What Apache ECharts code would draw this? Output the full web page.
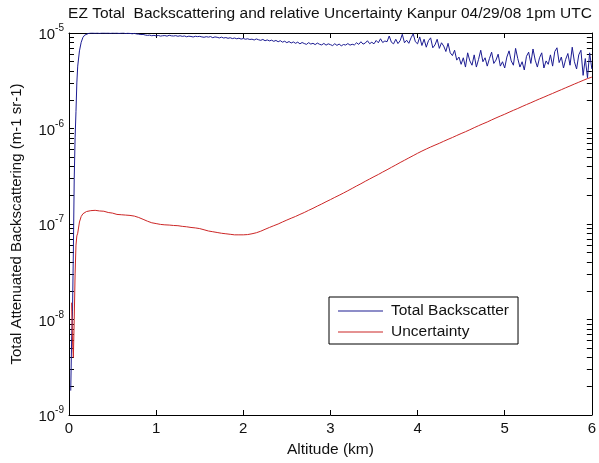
<!DOCTYPE html>
<html>
<head>
<meta charset="utf-8">
<script src="https://cdn.jsdelivr.net/npm/echarts@6/dist/echarts.min.js"></script>
<style>html,body{margin:0;padding:0;background:#fff;}#c{width:599px;height:463px;}</style>
</head>
<body>
<div id="c"></div>
<script>
// ---- Data ----
const chartTitle = 'EZ Total  Backscattering and relative Uncertainty Kanpur 04/29/08 1pm UTC';
const seriesNames = ['Total Backscatter', 'Uncertainty'];
const xTickLabels = [0, 1, 2, 3, 4, 5, 6];
const yTickDecades = [-9, -8, -7, -6, -5];      // labels 10^-9 ... 10^-5
const yMinorMultipliers = [2, 3, 4, 5, 6, 7, 8, 9];

const altitudeBackscatter = [
  0.02,0.03,0.04,0.05,0.06,0.07,0.08,0.09,0.10,0.12,0.14,0.16,0.18,
  0.2,0.225,0.25,0.275, 0.3,0.325,0.35,0.375, 0.4,0.425,0.45,0.475, 0.5,0.525,0.55,0.575,
  0.6,0.625,0.65,0.675, 0.7,0.725,0.75,0.775, 0.8,0.825,0.85,0.875, 0.9,0.925,0.95,0.975,
  1.0,1.025,1.05,1.075, 1.1,1.125,1.15,1.175, 1.2,1.225,1.25,1.275, 1.3,1.325,1.35,1.375,
  1.4,1.425,1.45,1.475, 1.5,1.525,1.55,1.575, 1.6,1.625,1.65,1.675, 1.7,1.725,1.75,1.775,
  1.8,1.825,1.85,1.875, 1.9,1.925,1.95,1.975,
  2.0,2.025,2.05,2.075, 2.1,2.125,2.15,2.175, 2.2,2.225,2.25,2.275, 2.3,2.325,2.35,2.375,
  2.4,2.425,2.45,2.475, 2.5,2.525,2.55,2.575, 2.6,2.625,2.65,2.675, 2.7,2.725,2.75,2.775,
  2.8,2.825,2.85,2.875, 2.9,2.925,2.95,2.975,
  3.0,3.025,3.05,3.075, 3.1,3.125,3.15,3.175, 3.2,3.225,3.25,3.275, 3.3,3.325,3.35,3.375,
  3.4,3.425,3.45,3.475, 3.5,3.525,3.55,3.575, 3.6,3.625,3.65,3.675, 3.7,3.725,3.75,3.775,
  3.8,3.825,3.85,3.875, 3.9,3.925,3.95,3.975,
  4.0,4.025,4.05,4.075, 4.1,4.125,4.15,4.175, 4.2,4.225,4.25,4.275, 4.3,4.325,4.35,4.375,
  4.4,4.425,4.45,4.475, 4.5,4.525,4.55,4.575, 4.6,4.625,4.65,4.675, 4.7,4.725,4.75,4.775,
  4.8,4.825,4.85,4.875, 4.9,4.925,4.95,4.975,
  5.0,5.025,5.05,5.075, 5.1,5.125,5.15,5.175, 5.2,5.225,5.25,5.275, 5.3,5.325,5.35,5.375,
  5.4,5.425,5.45,5.475, 5.5,5.525,5.55,5.575, 5.6,5.625,5.65,5.675, 5.7,5.725,5.75,5.775,
  5.8,5.825,5.85,5.875, 5.9,5.925,5.95,5.975, 6.0
];

const totalBackscatter = [
  1.8e-9,6e-9,1.2e-8,5e-8,3e-7,8e-7,1.5e-6,3e-6,4.5e-6,6.5e-6,8e-6,9e-6,9.5e-6,
  9.7e-6,9.9e-6,10e-6,10e-6, 9.95e-6,10e-6,9.92e-6,10e-6, 10e-6,9.97e-6,10e-6,9.93e-6, 10e-6,9.96e-6,9.99e-6,9.91e-6,
  9.97e-6,10e-6,9.88e-6,9.95e-6, 9.9e-6,9.82e-6,9.9e-6,9.78e-6, 9.72e-6,9.63e-6,9.66e-6,9.52e-6, 9.44e-6,9.5e-6,9.36e-6,9.45e-6,
  9.33e-6,9.42e-6,9.28e-6,9.36e-6, 9.4e-6,9.27e-6,9.46e-6,9.34e-6, 9.3e-6,9.38e-6,9.24e-6,9.36e-6, 9.22e-6,9.31e-6,9.13e-6,9.26e-6,
  9.2e-6,9.08e-6,9.24e-6,9.16e-6, 9.22e-6,9.1e-6,9.02e-6,9.15e-6, 9.05e-6,9.17e-6,8.93e-6,9.1e-6, 9.02e-6,8.88e-6,9.05e-6,8.86e-6,
  8.96e-6,8.8e-6,8.92e-6,8.74e-6, 8.86e-6,8.7e-6,8.82e-6,8.64e-6,
  8.76e-6,8.61e-6,8.7e-6,8.55e-6, 8.62e-6,8.45e-6,8.66e-6,8.5e-6, 8.38e-6,8.56e-6,8.3e-6,8.46e-6, 8.27e-6,8.41e-6,8.18e-6,8.36e-6,
  8.1e-6,8.31e-6,8.02e-6,8.2e-6, 7.92e-6,8.14e-6,7.86e-6,8.06e-6, 7.8e-6,8.02e-6,7.7e-6,7.95e-6, 7.76e-6,7.6e-6,7.92e-6,7.66e-6,
  7.8e-6,7.56e-6,7.84e-6,7.62e-6, 7.5e-6,7.78e-6,7.46e-6,7.7e-6,
  7.55e-6,7.38e-6,7.72e-6,7.42e-6, 7.66e-6,7.34e-6,7.58e-6,7.48e-6, 7.75e-6,7.46e-6,7.62e-6,7.5e-6, 7.9e-6,7.6e-6,8.1e-6,7.65e-6,
  7.85e-6,8.3e-6,7.72e-6,8.0e-6, 7.7e-6,8.35e-6,7.9e-6,8.7e-6, 7.95e-6,8.25e-6,8.1e-6,9.3e-6, 8.0e-6,7.7e-6,8.6e-6,7.75e-6,
  8.3e-6,9.7e-6,7.9e-6,8.4e-6, 7.8e-6,8.9e-6,9.8e-6,8.1e-6,
  7.7e-6,9.1e-6,7.4e-6,8.6e-6, 7.1e-6,8.3e-6,8.9e-6,7.0e-6, 7.5e-6,8.6e-6,6.9e-6,7.9e-6, 7.3e-6,6.4e-6,7.8e-6,6.2e-6,
  5.8e-6,6.6e-6,5.2e-6,5.6e-6, 4.7e-6,5.5e-6,4.4e-6,6.2e-6, 5.1e-6,4.6e-6,5.9e-6,4.4e-6, 5.3e-6,6.6e-6,5.0e-6,5.5e-6,
  4.5e-6,5.4e-6,6.3e-6,4.8e-6, 5.2e-6,6.0e-6,4.5e-6,5.0e-6,
  4.3e-6,5.6e-6,6.5e-6,5.1e-6, 4.6e-6,6.9e-6,5.4e-6,4.4e-6, 5.0e-6,4.1e-6,5.7e-6,6.3e-6, 4.8e-6,6.8e-6,5.2e-6,4.4e-6,
  5.5e-6,6.2e-6,4.3e-6,5.1e-6, 4.7e-6,5.9e-6,4.5e-6,6.4e-6, 7.0e-6,4.9e-6,5.6e-6,4.3e-6, 5.3e-6,6.1e-6,4.6e-6,7.1e-6,
  5.0e-6,4.2e-6,5.9e-6,6.6e-6, 3.6e-6,5.4e-6,3.4e-6,6.2e-6, 4.2e-6
];

const altitudeUncertainty = [
  0.03,0.04,0.05,0.06,0.07,0.08,0.09,0.10,0.12,0.14,0.16,0.18,
  0.20,0.25,0.30,0.35,0.40,0.45,0.50,0.55,0.60,0.65,0.70,0.75,0.80,0.85,0.90,0.95,
  1.00,1.05,1.10,1.15,1.20,1.25,1.30,1.35,1.40,1.45,1.50,1.55,1.60,1.65,1.70,1.75,1.80,1.85,1.90,1.95,
  2.00,2.05,2.10,2.15,2.20,2.25,2.30,2.35,2.40,2.45,2.50,2.55,2.60,2.65,2.70,2.75,2.80,2.85,2.90,2.95,
  3.00,3.05,3.10,3.15,3.20,3.25,3.30,3.35,3.40,3.45,3.50,3.55,3.60,3.65,3.70,3.75,3.80,3.85,3.90,3.95,
  4.00,4.05,4.10,4.15,4.20,4.25,4.30,4.35,4.40,4.45,4.50,4.55,4.60,4.65,4.70,4.75,4.80,4.85,4.90,4.95,
  5.00,5.05,5.10,5.15,5.20,5.25,5.30,5.35,5.40,5.45,5.50,5.55,5.60,5.65,5.70,5.75,5.80,5.85,5.90,5.95,
  6.00
];

const uncertainty = [
  1.5e-8,6e-9,4e-9,1e-8,3e-8,6e-8,7.5e-8,8e-8,1.05e-7,1.2e-7,1.28e-7,1.32e-7,
  1.35e-7,1.38e-7,1.39e-7,1.37e-7,1.36e-7,1.32e-7,1.3e-7,1.26e-7,1.25e-7,1.24e-7,1.23e-7,1.21e-7,1.17e-7,1.12e-7,1.07e-7,1.03e-7,
  1.01e-7,0.99e-7,0.98e-7,0.975e-7,0.965e-7,0.96e-7,0.945e-7,0.935e-7,0.92e-7,0.91e-7,0.895e-7,0.87e-7,0.845e-7,0.83e-7,0.815e-7,0.8e-7,0.79e-7,0.78e-7,0.77e-7,0.77e-7,
  0.77e-7,0.775e-7,0.79e-7,0.81e-7,0.84e-7,0.88e-7,0.92e-7,0.96e-7,1.0e-7,1.05e-7,1.1e-7,1.15e-7,1.2e-7,1.26e-7,1.32e-7,1.39e-7,1.46e-7,1.54e-7,1.62e-7,1.71e-7,
  1.8e-7,1.9e-7,2.0e-7,2.11e-7,2.23e-7,2.36e-7,2.5e-7,2.64e-7,2.8e-7,2.96e-7,3.13e-7,3.3e-7,3.5e-7,3.7e-7,3.92e-7,4.15e-7,4.4e-7,4.65e-7,4.92e-7,5.2e-7,
  5.5e-7,5.8e-7,6.1e-7,6.4e-7,6.7e-7,7.0e-7,7.35e-7,7.7e-7,8.05e-7,8.45e-7,8.85e-7,9.25e-7,9.7e-7,1.02e-6,1.07e-6,1.12e-6,1.17e-6,1.23e-6,1.29e-6,1.35e-6,
  1.41e-6,1.48e-6,1.55e-6,1.62e-6,1.7e-6,1.78e-6,1.86e-6,1.95e-6,2.04e-6,2.13e-6,2.23e-6,2.33e-6,2.44e-6,2.55e-6,2.67e-6,2.79e-6,2.92e-6,3.05e-6,3.19e-6,3.33e-6,
  3.45e-6
];

// ---- Build chart ----
const FONT = '"Liberation Sans", Arial, sans-serif';
const TXT = '#111';
const blueColor = '#1c1c92';
const redColor = '#cc2626';

const yTickValues = [];
yTickDecades.forEach(function (d, i) {
  yTickValues.push(d);
  if (i < yTickDecades.length - 1) {
    yMinorMultipliers.forEach(function (m) { yTickValues.push(d + Math.log10(m)); });
  }
});

function pairs(xs, ys) { return xs.map(function (x, i) { return [x, ys[i]]; }); }

const chart = echarts.init(document.getElementById('c'), null, { renderer: 'canvas' });
const tickStyle = { show: true, inside: true, length: 5, lineStyle: { color: '#000', width: 1 } };

chart.setOption({
  animation: false,
  backgroundColor: '#fff',
  textStyle: { fontFamily: FONT },
  title: {
    text: chartTitle, left: 330, top: 6, padding: 0, textAlign: 'center',
    textStyle: { fontFamily: FONT, fontSize: 15.5, fontWeight: 'normal', color: TXT }
  },
  grid: { left: 69, right: 5, top: 33, bottom: 47, containLabel: false },
  legend: {
    orient: 'vertical', left: 329, top: 297,
    data: seriesNames,
    icon: 'rect', itemWidth: 45, itemHeight: 1, itemGap: 3,
    padding: [5, 9, 3, 9],
    borderColor: '#000', borderWidth: 1, backgroundColor: '#fff',
    textStyle: { fontFamily: FONT, fontSize: 15.5, color: TXT, lineHeight: 18, padding: [0, 0, 0, 3] }
  },
  xAxis: [
    {
      type: 'value', position: 'bottom', min: 0, max: 6, interval: 1,
      axisLine: { show: true, lineStyle: { color: '#000', width: 1 } },
      axisTick: tickStyle,
      axisLabel: { color: TXT, fontSize: 15, fontFamily: FONT, margin: 6,
        formatter: function (v) { return xTickLabels.indexOf(v) >= 0 ? String(v) : ''; } },
      splitLine: { show: false },
      name: 'Altitude (km)', nameLocation: 'middle', nameGap: 27,
      nameTextStyle: { color: TXT, fontSize: 15.5, fontFamily: FONT }
    },
    {
      type: 'value', position: 'top', min: 0, max: 6, interval: 1,
      axisLine: { show: true, onZero: false, lineStyle: { color: '#000', width: 1 } },
      axisTick: tickStyle,
      axisLabel: { show: false },
      splitLine: { show: false }
    }
  ],
  yAxis: [
    { type: 'log', logBase: 10, min: 1e-9, max: 1e-5, show: false, position: 'left' },
    {
      type: 'value', position: 'left', min: -9, max: -5,
      axisLine: { show: true, onZero: false, lineStyle: { color: '#000', width: 1 } },
      axisTick: Object.assign({}, tickStyle, { customValues: yTickValues }),
      axisLabel: {
        customValues: yTickDecades, margin: 5,
        formatter: function (v) { return '{b|10}{e|' + v + '}'; },
        rich: {
          b: { fontSize: 15, fontFamily: FONT, color: TXT, verticalAlign: 'bottom' },
          e: { fontSize: 10, fontFamily: FONT, color: TXT, verticalAlign: 'bottom', padding: [0, 0, 9, 0] }
        }
      },
      splitLine: { show: false },
      name: 'Total Attenuated Backscattering (m-1 sr-1)', nameLocation: 'middle', nameGap: 45,
      nameRotate: 90,
      nameTextStyle: { color: TXT, fontSize: 15, fontFamily: FONT }
    },
    {
      type: 'value', position: 'right', min: -9, max: -5,
      axisLine: { show: true, onZero: false, lineStyle: { color: '#000', width: 1 } },
      axisTick: Object.assign({}, tickStyle, { customValues: yTickValues }),
      axisLabel: { show: false },
      splitLine: { show: false }
    }
  ],
  series: [
    {
      name: seriesNames[0], type: 'line', xAxisIndex: 0, yAxisIndex: 0,
      data: pairs(altitudeBackscatter, totalBackscatter),
      showSymbol: false, symbol: 'none', color: blueColor,
      lineStyle: { color: blueColor, width: 1 }, z: 3
    },
    {
      name: seriesNames[1], type: 'line', xAxisIndex: 0, yAxisIndex: 0,
      data: pairs(altitudeUncertainty, uncertainty),
      showSymbol: false, symbol: 'none', color: redColor,
      lineStyle: { color: redColor, width: 1 }, z: 4
    }
  ]
});
</script>
</body>
</html>
